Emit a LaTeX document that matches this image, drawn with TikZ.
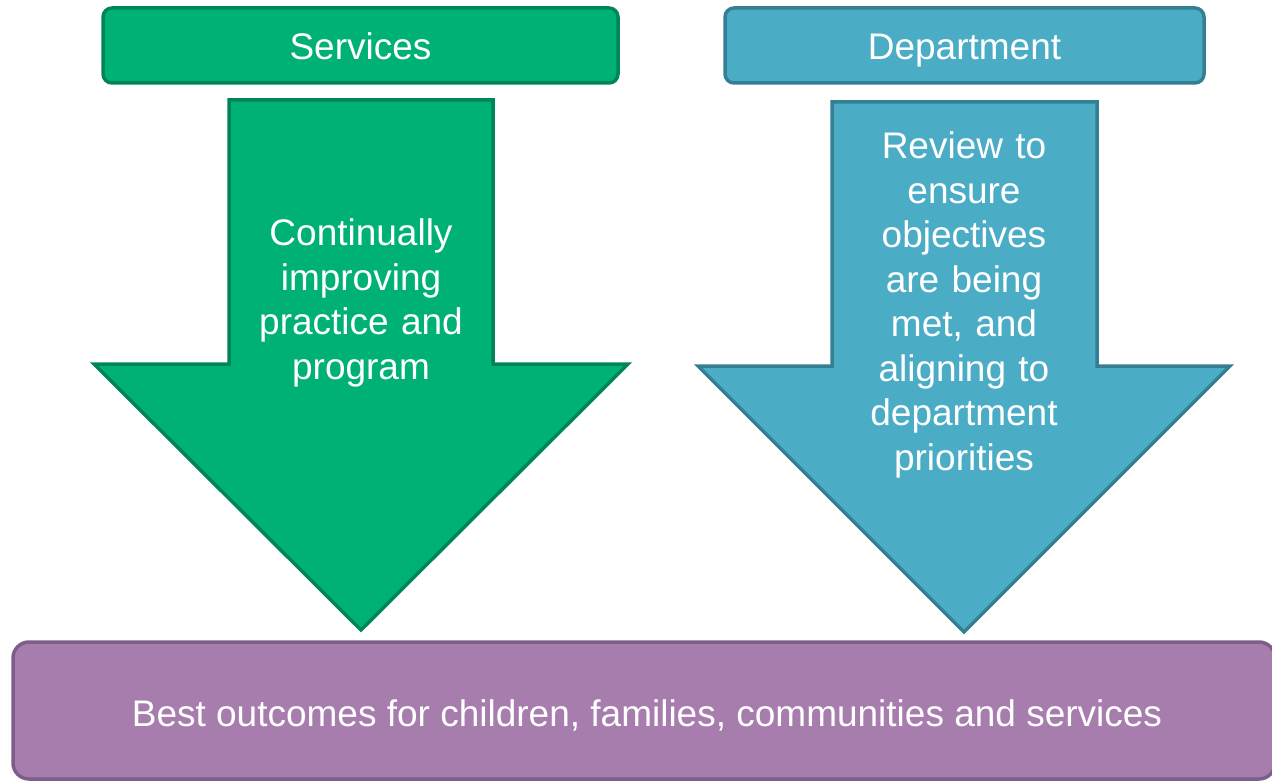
\documentclass[tikz,border=0pt]{standalone}
\usepackage{fontspec}
\setmainfont{Liberation Sans}
\definecolor{gfill}{HTML}{00B176}
\definecolor{gline}{HTML}{00855A}
\definecolor{bfill}{HTML}{4BACC6}
\definecolor{bline}{HTML}{357F93}
\definecolor{pfill}{HTML}{A77DAE}
\definecolor{pline}{HTML}{7D5E88}
\tikzset{
  headbox/.style={rounded corners=9pt, line width=3.5pt},
  arrowshape/.style={line width=3.5pt, line join=miter},
  lbl/.style={text=white, font=\fontsize{37}{44.5}\selectfont, align=center},
}
\begin{document}
\begin{tikzpicture}[x=1pt,y=-1pt]
\useasboundingbox (0,0) rectangle (1272,781);
% header boxes
\draw[headbox, fill=gfill, draw=gline] (103,8) rectangle (618,83);
\node[lbl, anchor=base] (serv) at (360.5,59.5) {Services};
\draw[headbox, fill=bfill, draw=bline] (725,8) rectangle (1204,83);
\node[lbl, anchor=base] (dept) at (964.5,59.5) {Department};
% green arrow
\draw[arrowshape, fill=gfill, draw=gline]
  (229,100) -- (493,100) -- (493,364) -- (628,364) -- (361,630) -- (94,364) -- (229,364) -- cycle;
\node[lbl, text width=260pt] (gtext) at (361,303) {Continually\\improving\\practice and\\program};
% blue arrow
\draw[arrowshape, fill=bfill, draw=bline]
  (832,102) -- (1097,102) -- (1097,366) -- (1230,366) -- (964,632) -- (698,366) -- (832,366) -- cycle;
\node[lbl, text width=260pt] (btext) at (964,305) {Review to\\ensure\\objectives\\are being\\met, and\\aligning to\\department\\priorities};
% bottom box
\draw[headbox, rounded corners=16pt, fill=pfill, draw=pline] (13,642) rectangle (1275,779);
\node[lbl, anchor=base] (best) at (647,726) {Best outcomes for children, families, communities and services};
\end{tikzpicture}
\end{document}
